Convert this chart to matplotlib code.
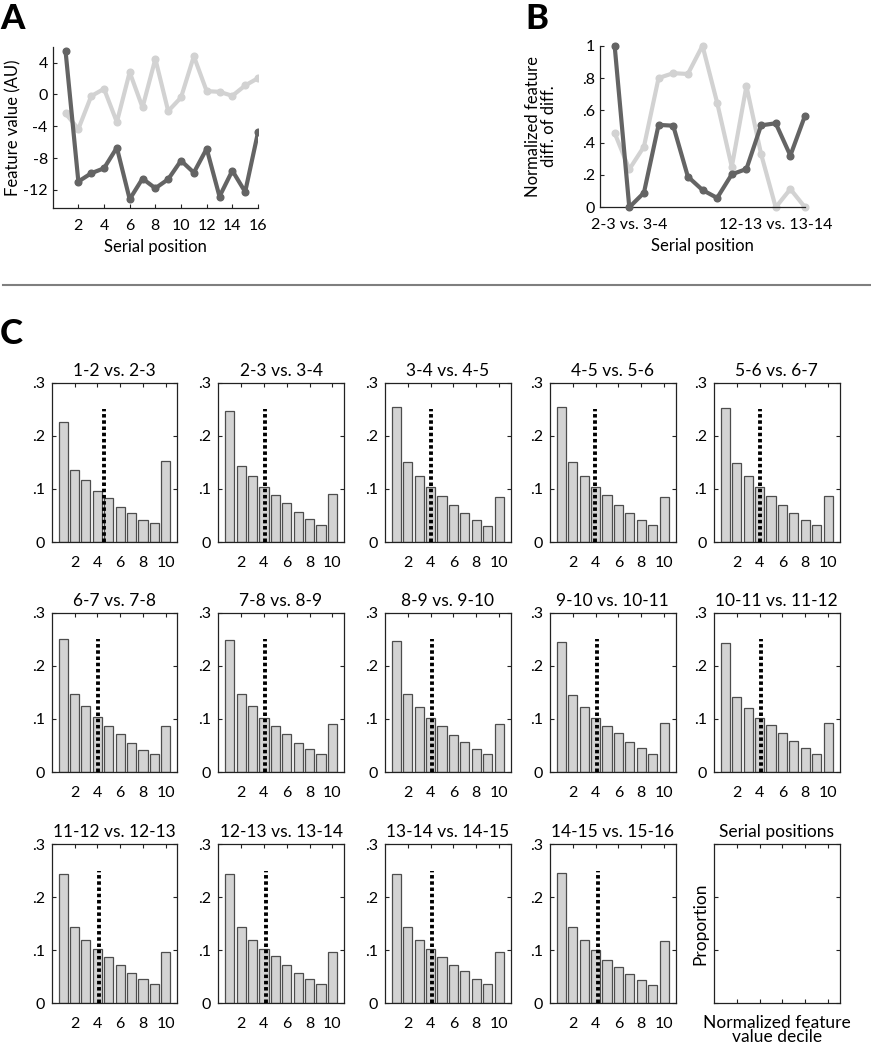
import matplotlib
matplotlib.use("Agg")
import matplotlib.pyplot as plt
from matplotlib.lines import Line2D
import numpy as np

plt.rcParams['font.family'] = ['Lato', 'DejaVu Sans']
plt.rcParams['axes.unicode_minus'] = False

# ---------------- data ----------------
# Panel A
positions_A = list(range(1, 17))
feature_dark = [5.47, -10.94, -9.9, -9.27, -6.68, -13.16, -10.57, -11.78,
                -10.65, -8.31, -9.82, -6.81, -12.82, -9.57, -12.24, -4.76]
feature_light = [-2.38, -4.34, -0.21, 0.71, -3.47, 2.80, -1.63, 4.47,
                 -2.09, -0.38, 4.80, 0.42, 0.33, -0.17, 1.13, 2.05]
a_xticks = [2, 4, 6, 8, 10, 12, 14, 16]
a_yticks = [-12, -8, -4, 0, 4]

# Panel B
positions_B = list(range(1, 15))
diff_dark = [1.0, 0.0, 0.09, 0.51, 0.505, 0.19, 0.107, 0.058,
             0.204, 0.237, 0.507, 0.52, 0.32, 0.567]
diff_light = [0.46, 0.235, 0.375, 0.80, 0.83, 0.825, 1.0, 0.647,
              0.25, 0.75, 0.33, 0.0, 0.113, 0.0]
b_xticks = [2, 12]
b_xticklabels = ['2-3 vs. 3-4', '12-13 vs. 13-14']
b_yticks = [0, 0.2, 0.4, 0.6, 0.8, 1.0]
b_yticklabels = ['0', '.2', '.4', '.6', '.8', '1']

# Panel C
comparisons = ['1-2 vs. 2-3', '2-3 vs. 3-4', '3-4 vs. 4-5', '4-5 vs. 5-6',
               '5-6 vs. 6-7', '6-7 vs. 7-8', '7-8 vs. 8-9', '8-9 vs. 9-10',
               '9-10 vs. 10-11', '10-11 vs. 11-12', '11-12 vs. 12-13',
               '12-13 vs. 13-14', '13-14 vs. 14-15', '14-15 vs. 15-16']
deciles = list(range(1, 11))
decile_props = [
    [0.226, 0.135, 0.116, 0.096, 0.082, 0.066, 0.054, 0.042, 0.035, 0.152],
    [0.247, 0.144, 0.124, 0.104, 0.089, 0.073, 0.057, 0.043, 0.032, 0.090],
    [0.255, 0.150, 0.125, 0.103, 0.086, 0.070, 0.054, 0.042, 0.031, 0.085],
    [0.254, 0.150, 0.125, 0.103, 0.088, 0.070, 0.055, 0.042, 0.032, 0.084],
    [0.253, 0.149, 0.124, 0.103, 0.087, 0.070, 0.055, 0.042, 0.032, 0.086],
    [0.250, 0.147, 0.125, 0.103, 0.086, 0.071, 0.055, 0.042, 0.033, 0.086],
    [0.248, 0.146, 0.124, 0.101, 0.087, 0.072, 0.055, 0.044, 0.033, 0.090],
    [0.246, 0.147, 0.122, 0.101, 0.086, 0.070, 0.056, 0.043, 0.034, 0.091],
    [0.244, 0.145, 0.122, 0.101, 0.087, 0.073, 0.056, 0.045, 0.033, 0.093],
    [0.243, 0.142, 0.120, 0.102, 0.088, 0.073, 0.058, 0.045, 0.034, 0.093],
    [0.244, 0.143, 0.120, 0.102, 0.087, 0.072, 0.057, 0.046, 0.036, 0.096],
    [0.243, 0.143, 0.120, 0.102, 0.089, 0.073, 0.057, 0.046, 0.036, 0.097],
    [0.243, 0.143, 0.120, 0.103, 0.087, 0.073, 0.060, 0.046, 0.036, 0.096],
    [0.245, 0.144, 0.119, 0.100, 0.082, 0.068, 0.055, 0.043, 0.034, 0.117],
]
median_decile = [4.58, 4.11, 4.0, 3.98, 4.07, 4.1, 4.11, 4.08, 4.08, 4.11,
                 4.14, 4.2, 4.14, 4.18]
c_xticks = [2, 4, 6, 8, 10]
c_yticks = [0, 0.1, 0.2, 0.3]
c_yticklabels = ['0', '.1', '.2', '.3']

# ---------------- style ----------------
W, H = 871, 1050
fig = plt.figure(figsize=(W / 100, H / 100), dpi=100)

DARK = '#646464'
LIGHT = '#d2d2d2'
AXC = '#222222'
FS = 11.5


def fax(l, t, r, b):
    return fig.add_axes([l / W, 1 - b / H, (r - l) / W, (b - t) / H])


def style(ax, box=False):
    for s in ax.spines.values():
        s.set_color(AXC)
        s.set_linewidth(0.9)
    if not box:
        ax.spines['top'].set_visible(False)
        ax.spines['right'].set_visible(False)
    ax.tick_params(direction='in', length=3, width=0.8, color=AXC,
                   labelsize=FS, top=box, right=box)


# Panel A
axA = fax(52.7, 46.7, 258, 208.3)
axA.plot(positions_A, feature_light, color=LIGHT, lw=3.0, marker='o', ms=4.8,
         solid_joinstyle='round', zorder=2)
axA.plot(positions_A, feature_dark, color=DARK, lw=3.0, marker='o', ms=4.8,
         solid_joinstyle='round', zorder=3)
axA.set_xlim(0, 16)
axA.set_ylim(-14.3, 6)
axA.set_xticks(a_xticks)
axA.set_yticks(a_yticks)
style(axA)
axA.tick_params(axis='x', pad=8)
axA.set_xlabel('Serial position', fontsize=12, labelpad=4)
axA.set_ylabel('Feature value (AU)', fontsize=12)
axA.yaxis.set_label_coords((21 - 52.7) / 205.3, 0.5)

# Panel B
axB = fax(600, 45.7, 805, 207.3)
axB.plot(positions_B, diff_light, color=LIGHT, lw=3.0, marker='o', ms=4.8,
         solid_joinstyle='round', zorder=2, clip_on=False)
axB.plot(positions_B, diff_dark, color=DARK, lw=3.0, marker='o', ms=4.8,
         solid_joinstyle='round', zorder=3, clip_on=False)
axB.set_xlim(0, 14)
axB.set_ylim(0, 1)
axB.set_xticks(b_xticks)
axB.set_xticklabels(b_xticklabels)
axB.set_yticks(b_yticks)
axB.set_yticklabels(b_yticklabels)
style(axB)
axB.tick_params(axis='x', pad=8)
axB.set_xlabel('Serial position', fontsize=12, labelpad=4)
axB.set_ylabel('Normalized feature\ndiff. of diff.', fontsize=12,
               linespacing=1.0)
axB.yaxis.set_label_coords((557 - 600) / 205.0, 0.5)

# Panel letters
fig.text(0.0 / W, 1 - 3 / H, 'A', fontsize=25, fontweight='black', va='top', ha='left')
fig.text(525 / W, 1 - 3 / H, 'B', fontsize=25, fontweight='black', va='top', ha='left')
fig.text(0.0 / W, 1 - 318 / H, 'C', fontsize=25, fontweight='black', va='top', ha='left')

# separator
fig.add_artist(Line2D([3 / W, 1.0], [1 - 284.7 / H] * 2, transform=fig.transFigure,
                      color='#7f7f7f', lw=1.5))

# Panel C grid
col_left = [51.7, 218.3, 385, 550, 714]
row_top = [382.7, 612.7, 844]
cw, ch = 125.5, 159.3

for i in range(15):
    r, c = divmod(i, 5)
    l = col_left[c]
    t = row_top[r]
    ax = fax(l, t, l + cw, t + ch)
    style(ax, box=True)
    ax.set_xlim(0, 11)
    ax.set_ylim(0, 0.3)
    ax.set_xticks(c_xticks)
    ax.set_yticks(c_yticks)
    ax.tick_params(axis='x', pad=10)
    ax.tick_params(axis='y', pad=5)
    if i < 14:
        ax.bar(deciles, decile_props[i], width=0.8, color='#d3d3d3',
               edgecolor='#4d4d4d', linewidth=0.9, zorder=2)
        ax.plot([median_decile[i]] * 2, [0, 0.25], color='black', lw=2.8,
                linestyle=(0, (0.9, 0.7)), zorder=3)
        ax.set_yticklabels(c_yticklabels)
        ax.set_title(comparisons[i], fontsize=12.5, pad=5)
    else:
        ax.set_xticklabels([])
        ax.set_yticklabels([])
        ax.set_title('Serial positions', fontsize=12.5, pad=5)
        ax.set_ylabel('Proportion', fontsize=12.5)
        ax.yaxis.set_label_coords((708 - 714) / cw, 0.5)
        fig.text((l + cw / 2) / W, 1 - 1015 / H, 'Normalized feature\nvalue decile',
                 fontsize=12.5, ha='center', va='top', linespacing=0.82)

fig.savefig('out.png', dpi=100)
